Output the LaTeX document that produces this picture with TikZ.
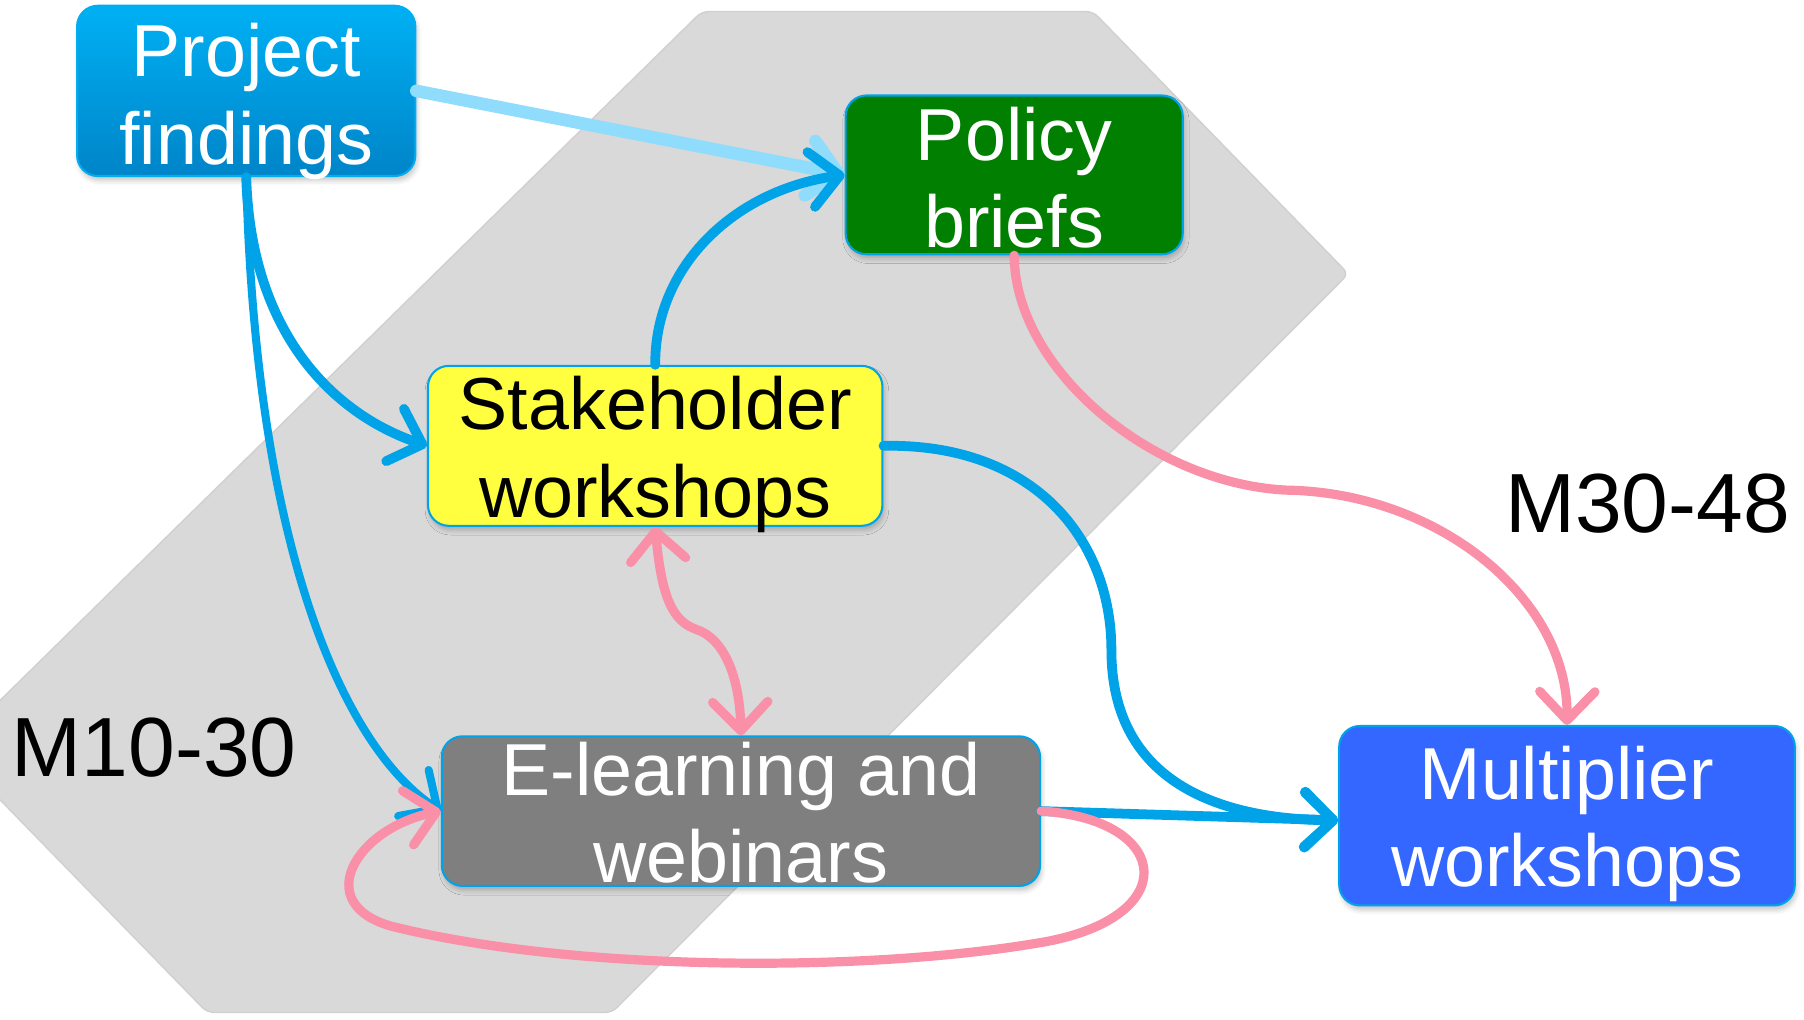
\documentclass[tikz,border=0pt]{standalone}
\usepackage{fontspec}
\setmainfont{Liberation Sans}
\usetikzlibrary{arrows.meta,shadows.blur}
\definecolor{dkb}{HTML}{00A2E8}
\definecolor{lbl}{HTML}{8FDCFC}
\definecolor{pk}{HTML}{FA8FA8}
\definecolor{hexfill}{HTML}{D9D9D9}
\definecolor{hexedge}{HTML}{D0D0D0}
\definecolor{pftop}{HTML}{00B0F4}
\definecolor{pfbot}{HTML}{0084C8}
\definecolor{pfedge}{HTML}{00AEEF}
\definecolor{pbfill}{HTML}{007F00}
\definecolor{shfill}{HTML}{FFFF3F}
\definecolor{elfill}{HTML}{7F7F7F}
\definecolor{mlfill}{HTML}{3467FF}
\begin{document}
\begin{tikzpicture}[x=1pt,y=-1pt,
  box/.style={rounded corners=18pt, draw=dkb, line width=1.8pt,
    blur shadow={shadow xshift=1.5pt,shadow yshift=-4pt,shadow opacity=22,shadow blur radius=4pt}},
  txt/.style={align=center, font=\fontsize{64}{76}\selectfont, inner sep=0pt},
  lab/.style={font=\fontsize{73}{80}\selectfont, inner sep=0pt},
  con/.style={line cap=round, line join=round,
    preaction={draw=black, draw opacity=0.12, transform canvas={shift={(1pt,-3pt)}}}},
  tipb/.style={-{Straight Barb[length=25pt,width=48pt,round]}},
  tipbb/.style={{Straight Barb[length=25pt,width=48pt,round]}-{Straight Barb[length=25pt,width=48pt,round]}},
  thick blue/.style={con, draw=dkb, line width=8.5pt},
  pink line/.style={con, draw=pk, line width=8pt},
]
\useasboundingbox (0,0) rectangle (1568,886);
\fill[fill=hexfill, draw=hexedge, line width=1.2pt, rounded corners=6pt]
  (610,10) -- (950,10) -- (1172,238) -- (532,880) -- (180,880) -- (-43,651) -- cycle;

% boxes
\node[box, top color=pftop, bottom color=pfbot, draw=pfedge, minimum width=294pt, minimum height=148pt] (pf) at (214,79) {};
\node[box, fill=pbfill, minimum width=293pt, minimum height=138pt] (pb) at (881.5,152) {};
\node[box, fill=shfill, minimum width=395pt, minimum height=139pt] (sh) at (569.5,387.5) {};
\node[box, fill=elfill, minimum width=520pt, minimum height=130pt] (el) at (644,705) {};
\node[box, fill=mlfill, minimum width=396pt, minimum height=156pt] (ml) at (1362,709) {};

% texts
\node[txt, text=white] (pft) at (214,88) {Project\\findings};
\node[txt, text=white] (pbt) at (881.5,154.5) {Policy\\briefs};
\node[txt, text=black] (sht) at (569.5,395) {Stakeholder\\workshops};
\node[txt, text=white] (elt) at (644,706.5) {E-learning and\\webinars};
\node[txt, text=white] (mlt) at (1362,716) {Multiplier\\workshops};
\node[lab] (m3048) at (1432,438) {M30-48};
\node[lab] (m1030) at (134,650) {M10-30};

% connectors
\draw[con, draw=lbl, line width=11pt, tipb] (pf.east) -- (pb.west);
\draw[thick blue, tipb] (sh.north) .. controls (569,230) and (640,165) .. (pb.west);
\draw[thick blue, tipb] (pf.south) .. controls (218,290) and (290,360) .. (sh.west);
\draw[con, draw=dkb, line width=7pt, tipb] (pf.south) .. controls (222,480) and (300,650) .. (el.west);
\draw[thick blue, tipb] (sh.east) .. controls (900,385) and (966,470) .. (966,565)
  .. controls (966,680) and (1060,712) .. ([yshift=-4pt]ml.west);
\draw[thick blue, tipb] (el.east) -- ([yshift=-4pt]ml.west);
\draw[pink line, tipb] (pb.south) .. controls (882,320) and (1000,420) .. (1118,426)
  .. controls (1250,428) and (1363,520) .. (ml.north);
\draw[pink line, tipbb] (sh.south) .. controls (575,520) and (585,540) .. (605,547)
  .. controls (630,555) and (643,590) .. (el.north);
\draw[pink line, tipb] (el.east) .. controls (1020,712) and (1030,800) .. (900,820)
  .. controls (750,845) and (500,845) .. (340,805)
  .. controls (270,785) and (310,720) .. (el.west);
\end{tikzpicture}
\end{document}
